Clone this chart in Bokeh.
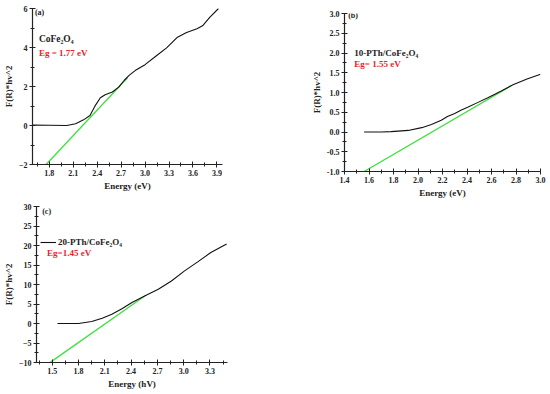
from bokeh.plotting import figure
from bokeh.models import Range1d, SingleIntervalTicker, NumeralTickFormatter, Label
from bokeh.embed import file_html
from bokeh.resources import INLINE

# ---- Panel (a): CoFe2O4 ----
a_energy = [1.59, 1.80, 2.02, 2.13, 2.23, 2.31, 2.37, 2.44, 2.50, 2.59, 2.67, 2.74, 2.80,
            2.88, 3.00, 3.15, 3.27, 3.40, 3.52, 3.65, 3.72, 3.81, 3.92]
a_value = [0.02, 0.01, 0.0, 0.09, 0.29, 0.51, 0.98, 1.42, 1.58, 1.72, 1.97, 2.32, 2.57,
           2.83, 3.12, 3.60, 3.98, 4.51, 4.77, 4.96, 5.11, 5.54, 6.0]
a_fit_energy = [1.76, 2.78]
a_fit_value = [-2.0, 2.45]

# ---- Panel (b): 10-PTh/CoFe2O4 ----
b_energy = [1.56, 1.70, 1.78, 1.92, 2.03, 2.11, 2.19, 2.24, 2.30, 2.35, 2.41, 2.49, 2.57,
            2.68, 2.78, 2.89, 3.00]
b_value = [0.0, 0.0, 0.01, 0.04, 0.11, 0.19, 0.30, 0.39, 0.47, 0.55, 0.63, 0.75, 0.87,
           1.04, 1.20, 1.34, 1.46]
b_fit_energy = [1.56, 2.76]
b_fit_value = [-1.0, 1.17]

# ---- Panel (c): 20-PTh/CoFe2O4 ----
c_energy = [1.56, 1.80, 1.95, 2.07, 2.18, 2.29, 2.41, 2.56, 2.71, 2.86, 3.01, 3.16, 3.31, 3.49]
c_value = [0.0, 0.0, 0.5, 1.37, 2.4, 3.7, 5.4, 7.1, 8.8, 10.9, 13.5, 15.8, 18.2, 20.4]
c_fit_energy = [1.48, 2.56]
c_fit_value = [-9.9, 7.1]

FONT = "Liberation Serif"
GREEN = "#3ee03e"
RED = "#e8242a"


def make_panel(width, height, pos, xr, yr, xint, yint, xfmt, yfmt, xlabel, borders):
    p = figure(width=width, height=height, output_backend="svg", toolbar_location=None,
               x_range=Range1d(*xr), y_range=Range1d(*yr),
               min_border_left=borders[0], min_border_right=borders[1],
               min_border_top=borders[2], min_border_bottom=borders[3],
               styles={"position": "absolute", "left": f"{pos[0]}px", "top": f"{pos[1]}px"})
    p.outline_line_color = None
    p.xgrid.visible = False
    p.ygrid.visible = False
    p.xaxis.ticker = SingleIntervalTicker(interval=xint, num_minor_ticks=2)
    p.yaxis.ticker = SingleIntervalTicker(interval=yint, num_minor_ticks=2)
    if xfmt:
        p.xaxis.formatter = NumeralTickFormatter(format=xfmt)
    if yfmt:
        p.yaxis.formatter = NumeralTickFormatter(format=yfmt)
    p.xaxis.axis_label = xlabel
    p.yaxis.axis_label = "F(R)*hv^2"
    for ax in (p.xaxis, p.yaxis):
        ax.axis_line_width = 1.2
        ax.axis_line_color = "#222222"
        ax.major_tick_in = 3
        ax.major_tick_out = 3
        ax.minor_tick_in = 2
        ax.minor_tick_out = 2
        ax.major_tick_line_color = "#222222"
        ax.minor_tick_line_color = "#222222"
        ax.major_label_text_font = FONT
        ax.major_label_text_font_style = "bold"
        ax.major_label_text_font_size = "8px"
        ax.major_label_text_color = "#222222"
        ax.major_label_standoff = 2
        ax.axis_label_text_font = FONT
        ax.axis_label_text_font_style = "bold"
        ax.axis_label_text_font_size = "9px"
        ax.axis_label_text_color = "#222222"
        ax.axis_label_standoff = 2
    return p


def add_label(p, x, y, text, color="#222222", size="9px"):
    p.add_layout(Label(x=x, y=y, text=text, text_font=FONT, text_font_style="bold",
                       text_font_size=size, text_color=color, text_baseline="middle"))


# Panel a
pa = make_panel(270, 200, (0, 0), (1.59, 3.97), (-2, 6), 0.3, 2, "0.0", None, "Energy (eV)",
                (32, 48, 8, 36))
pa.line(a_fit_energy, a_fit_value, line_color=GREEN, line_width=1.3)
pa.line(a_energy, a_value, line_color="#111111", line_width=1.1)
add_label(pa, 1.62, 5.8, "(a)", size="8px")
add_label(pa, 1.67, 4.45, "CoFe₂O₄", size="9.5px")
add_label(pa, 1.67, 3.7, "Eg = 1.77 eV", color=RED)

# Panel b
pb = make_panel(280, 205, (270, 0), (1.4, 3.0), (-1, 3), 0.2, 0.5, "0.0", "0.0", "Energy (eV)",
                (74, 10, 13, 34))
pb.line(b_fit_energy, b_fit_value, line_color=GREEN, line_width=1.3)
pb.line(b_energy, b_value, line_color="#111111", line_width=1.1)
add_label(pb, 1.43, 2.95, "(b)", size="8px")
add_label(pb, 1.48, 2.0, "10-PTh/CoFe₂O₄", size="9px")
add_label(pb, 1.48, 1.72, "Eg= 1.55 eV", color=RED)

# Panel c
pc = make_panel(270, 194, (0, 200), (1.32, 3.5), (-10, 30), 0.3, 5, "0.0", None, "Energy (hV)",
                (34, 43, 6, 32))
pc.line(c_fit_energy, c_fit_value, line_color=GREEN, line_width=1.3)
pc.line(c_energy, c_value, line_color="#111111", line_width=1.1,
        legend_label="20-PTh/CoFe₂O₄")
pc.legend.location = (4, 115)
pc.legend.background_fill_alpha = 0
pc.legend.border_line_color = None
pc.legend.label_text_font = FONT
pc.legend.label_text_font_style = "bold"
pc.legend.label_text_font_size = "9px"
pc.legend.label_text_color = "#222222"
pc.legend.glyph_width = 16
pc.legend.glyph_height = 8
pc.legend.label_standoff = 2
pc.legend.padding = 0
pc.legend.margin = 0
pc.legend.label_height = 8
add_label(pc, 1.385, 28.7, "(c)", size="8px")
add_label(pc, 1.44, 18.2, "Eg=1.45 eV", color=RED)

open("out.html", "w").write(file_html([pa, pb, pc], INLINE))
